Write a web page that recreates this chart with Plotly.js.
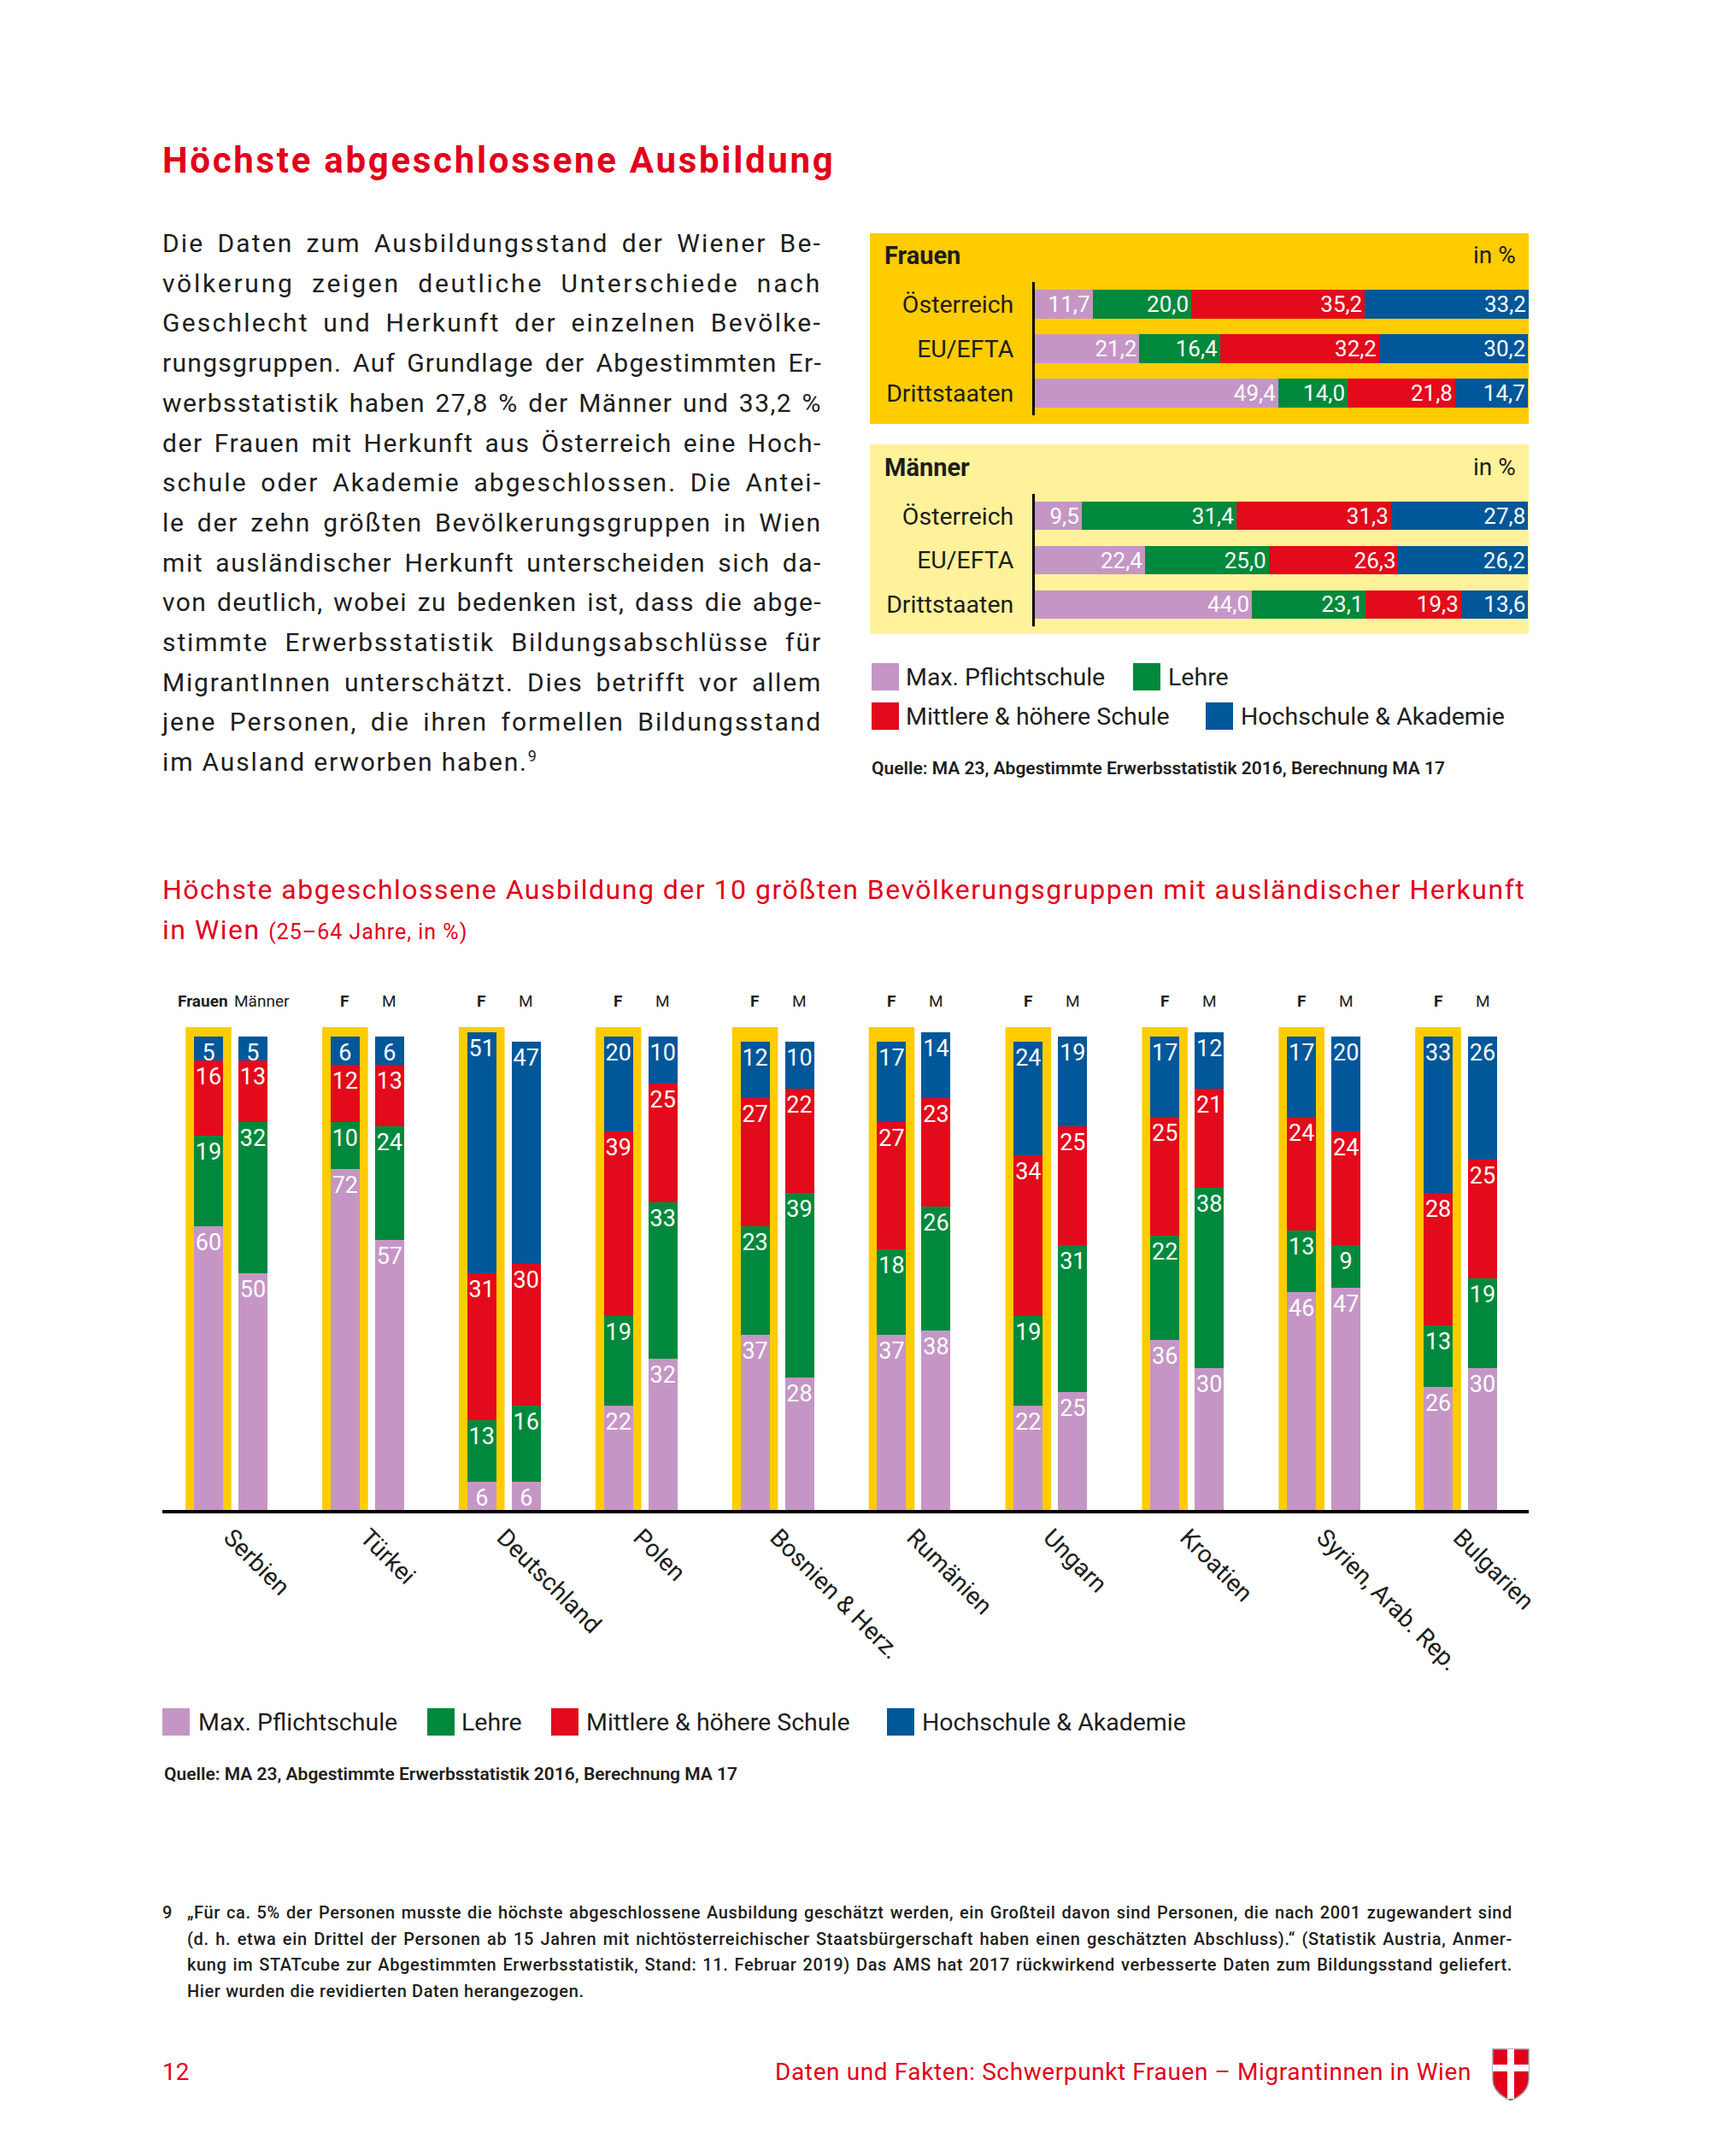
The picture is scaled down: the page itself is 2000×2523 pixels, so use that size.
<!DOCTYPE html>
<html><head><meta charset="utf-8">
<script src="https://cdn.plot.ly/plotly-3.0.1.min.js"></script>
<style>
html,body{margin:0;padding:0;background:#fff;}
#page{position:relative;width:2000px;height:2523px;overflow:hidden;font-family:Roboto,sans-serif;color:#1d1d1b;}
#chart{position:absolute;left:0;top:0;width:2000px;height:2523px;}
.t{position:absolute;white-space:nowrap;}
#h1{left:190px;top:166px;font-size:42px;line-height:44px;font-weight:700;color:#e2001a;letter-spacing:2.7px;}
#para{left:190px;top:262px;width:772px;font-size:30px;line-height:46.7px;white-space:normal;}
#para div, #fn .body div{text-align:justify;text-align-last:justify;}
#para div.last, #fn .body div.last{text-align:left;text-align-last:left;}
sup.fnm{font-size:60%;vertical-align:baseline;position:relative;top:-0.6em;}
#fn{left:190px;top:2223px;width:1580px;font-size:20px;line-height:30.7px;font-weight:500;white-space:normal;}
#fn .num{position:absolute;left:0;top:0;}
#fn .body{margin-left:29px;width:1551px;}
#t2{left:190px;top:1018px;font-size:32px;line-height:47px;color:#e2001a;letter-spacing:1.5px;}
#t2 small{font-size:25px;letter-spacing:1px;}
#pg{left:190px;top:2406px;font-size:28px;line-height:38px;color:#e2001a;}
#ft{right:278px;top:2406px;font-size:28px;line-height:38px;color:#e2001a;letter-spacing:0.6px;}
#coa{left:1746px;top:2397px;}
</style></head>
<body>
<div id="page">
<div id="chart"></div>
<div class="t" id="h1">Höchste abgeschlossene Ausbildung</div>
<div class="t" id="para">
<div>Die Daten zum Ausbildungsstand der Wiener Be-</div>
<div>völkerung zeigen deutliche Unterschiede nach</div>
<div>Geschlecht und Herkunft der einzelnen Bevölke-</div>
<div>rungsgruppen. Auf Grundlage der Abgestimmten Er-</div>
<div>werbsstatistik haben 27,8 % der Männer und 33,2 %</div>
<div>der Frauen mit Herkunft aus Österreich eine Hoch-</div>
<div>schule oder Akademie abgeschlossen. Die Antei-</div>
<div>le der zehn größten Bevölkerungsgruppen in Wien</div>
<div>mit ausländischer Herkunft unterscheiden sich da-</div>
<div>von deutlich, wobei zu bedenken ist, dass die abge-</div>
<div>stimmte Erwerbsstatistik Bildungsabschlüsse für</div>
<div>MigrantInnen unterschätzt. Dies betrifft vor allem</div>
<div>jene Personen, die ihren formellen Bildungsstand</div>
<div class="last">im Ausland erworben haben.<sup class="fnm">9</sup></div>
</div>
<div class="t" id="t2">Höchste abgeschlossene Ausbildung der 10 größten Bevölkerungsgruppen mit ausländischer Herkunft<br>in Wien <small>(25–64 Jahre, in %)</small></div>
<div class="t" id="fn"><span class="num">9</span><div class="body">
<div>„Für ca. 5% der Personen musste die höchste abgeschlossene Ausbildung geschätzt werden, ein Großteil davon sind Personen, die nach 2001 zugewandert sind</div>
<div>(d. h. etwa ein Drittel der Personen ab 15 Jahren mit nichtösterreichischer Staatsbürgerschaft haben einen geschätzten Abschluss).“ (Statistik Austria, Anmer-</div>
<div>kung im STATcube zur Abgestimmten Erwerbsstatistik, Stand: 11. Februar 2019) Das AMS hat 2017 rückwirkend verbesserte Daten zum Bildungsstand geliefert.</div>
<div class="last">Hier wurden die revidierten Daten herangezogen.</div>
</div></div>
<div class="t" id="pg">12</div>
<div class="t" id="ft">Daten und Fakten: Schwerpunkt Frauen – Migrantinnen in Wien</div>
<svg class="t" id="coa" width="44" height="62" viewBox="0 0 44 62">
<path d="M1,1 H43 V36 Q43,52 22,61 Q1,52 1,36 Z" fill="#e2001a" stroke="#9a9a9a" stroke-width="1.5"/>
<rect x="18" y="1" width="8" height="58" fill="#fff"/>
<rect x="1" y="19" width="42" height="8" fill="#fff"/>
</svg>
</div>
<script>
// ---------- data: top-right charts (in %) ----------
const groupsTop = ['Österreich', 'EU/EFTA', 'Drittstaaten'];
const frauenPflicht = [11.7, 21.2, 49.4];
const frauenLehre = [20.0, 16.4, 14.0];
const frauenMittlere = [35.2, 32.2, 21.8];
const frauenHoch = [33.2, 30.2, 14.7];
const maennerPflicht = [9.5, 22.4, 44.0];
const maennerLehre = [31.4, 25.0, 23.1];
const maennerMittlere = [31.3, 26.3, 19.3];
const maennerHoch = [27.8, 26.2, 13.6];

// ---------- data: 10 largest groups (25-64 years, in %) ----------
const countries = ['Serbien', 'Türkei', 'Deutschland', 'Polen', 'Bosnien & Herz.', 'Rumänien', 'Ungarn', 'Kroatien', 'Syrien, Arab. Rep.', 'Bulgarien'];
const fPflicht = [60, 72, 6, 22, 37, 37, 22, 36, 46, 26];
const fLehre = [19, 10, 13, 19, 23, 18, 19, 22, 13, 13];
const fMittlere = [16, 12, 31, 39, 27, 27, 34, 25, 24, 28];
const fHoch = [5, 6, 51, 20, 12, 17, 24, 17, 17, 33];
const mPflicht = [50, 57, 6, 32, 28, 38, 25, 30, 47, 30];
const mLehre = [32, 24, 16, 33, 39, 26, 31, 38, 9, 19];
const mMittlere = [13, 13, 30, 25, 22, 23, 25, 21, 24, 25];
const mHoch = [5, 6, 47, 10, 10, 14, 19, 12, 20, 26];

const levels = ['Max. Pflichtschule', 'Lehre', 'Mittlere & höhere Schule', 'Hochschule & Akademie'];
const levelColors = ['#c596c5', '#00893c', '#e30a1b', '#005799'];
const FRAME = '#ffcc00', LIGHT = '#fff29b', INK = '#1d1d1b';

const W = 2000, H = 2523;
const px = v => v / W, py = v => 1 - v / H;
const FONT = 'Roboto, sans-serif';

// spread letters of justified lines a little so word gaps stay moderate
function spread(sel, target, share) {
  const lines = Array.from(document.querySelectorAll(sel));
  let tot = 0, n = 0;
  lines.forEach(d => {
    if (d.classList.contains('last')) return;
    d.style.display = 'inline-block'; d.style.whiteSpace = 'nowrap';
    const w = d.getBoundingClientRect().width;
    const ls = Math.max(0, share * (target - w) / d.textContent.length);
    d.style.letterSpacing = ls.toFixed(2) + 'px';
    d.style.display = ''; d.style.whiteSpace = '';
    tot += ls; n++;
  });
  lines.forEach(d => { if (d.classList.contains('last')) d.style.letterSpacing = (tot / n).toFixed(2) + 'px'; });
}
spread('#para div', 772, 0.75);
spread('#fn .body div', 1551, 0.75);

const traces = [];
const frauenSets = [frauenPflicht, frauenLehre, frauenMittlere, frauenHoch];
const maennerSets = [maennerPflicht, maennerLehre, maennerMittlere, maennerHoch];
levels.forEach((lv, k) => {
  [[frauenSets, 'x', 'y'], [maennerSets, 'x2', 'y2']].forEach(([sets, xa, ya]) => {
    traces.push({
      type: 'bar', orientation: 'h', name: lv, y: groupsTop, x: sets[k],
      xaxis: xa, yaxis: ya, marker: {color: levelColors[k], line: {width: 0}},
      texttemplate: '%{x:.1f}', textposition: 'inside', insidetextanchor: 'end',
      textangle: 0, constraintext: 'none', cliponaxis: false,
      textfont: {family: FONT, size: 26, color: '#fff'},
      showlegend: false, hoverinfo: 'skip'
    });
  });
});

const OFF = 0.1625, BW = 0.2125, FW = 0.335;
const xF = countries.map((_, i) => i - OFF);
const xM = countries.map((_, i) => i + OFF);
const fSets = [fPflicht, fLehre, fMittlere, fHoch];
const mSets = [mPflicht, mLehre, mMittlere, mHoch];
levels.forEach((lv, k) => {
  traces.push({
    type: 'bar', name: lv, x: xF.concat(xM), y: fSets[k].concat(mSets[k]),
    width: BW, xaxis: 'x3', yaxis: 'y3',
    marker: {color: levelColors[k], line: {width: 0}},
    texttemplate: '%{y}', textposition: 'inside', insidetextanchor: 'end',
    textangle: 0, constraintext: 'none', cliponaxis: false,
    textfont: {family: FONT, size: 27, color: '#fff'},
    showlegend: false, hoverinfo: 'skip'
  });
});

const shapes = [];
const annotations = [];
// background boxes
shapes.push({type: 'rect', xref: 'paper', yref: 'paper', x0: px(1018), x1: px(1789), y0: py(496), y1: py(273), fillcolor: FRAME, line: {width: 0}, layer: 'below'});
shapes.push({type: 'rect', xref: 'paper', yref: 'paper', x0: px(1018), x1: px(1789), y0: py(742), y1: py(520), fillcolor: LIGHT, line: {width: 0}, layer: 'below'});
// yellow frames around women's bars
xF.forEach(x => shapes.push({type: 'rect', xref: 'x3', yref: 'y3', x0: x - FW / 2, x1: x + FW / 2, y0: 0, y1: 102, fillcolor: FRAME, line: {width: 0}, layer: 'below'}));

// box headers
[['Frauen', 299], ['Männer', 547]].forEach(([t, y]) => {
  annotations.push({xref: 'paper', yref: 'paper', x: px(1033), y: py(y), xanchor: 'left', yanchor: 'middle', text: '<b>' + t + '</b>', showarrow: false, font: {family: FONT, size: 29, color: INK}});
  annotations.push({xref: 'paper', yref: 'paper', x: px(1776), y: py(y), xanchor: 'right', yanchor: 'middle', text: 'in %', showarrow: false, font: {family: FONT, size: 28, color: INK}});
});

// legends
function legend(items) {
  items.forEach(([k, sx, tx, cy]) => {
    shapes.push({type: 'rect', xref: 'paper', yref: 'paper', x0: px(sx), x1: px(sx + 32), y0: py(cy + 16), y1: py(cy - 16), fillcolor: levelColors[k], line: {width: 0}});
    annotations.push({xref: 'paper', yref: 'paper', x: px(tx), y: py(cy), xanchor: 'left', yanchor: 'middle', text: levels[k], showarrow: false, font: {family: FONT, size: 28.5, color: INK}});
  });
}
legend([[0, 1020, 1058, 792], [1, 1326, 1365, 792], [2, 1020, 1058, 838], [3, 1411, 1450, 838]]);
legend([[0, 190, 230, 2015], [1, 500, 538, 2015], [2, 645, 684, 2015], [3, 1038, 1077, 2015]]);

// sources
const source = 'Quelle: MA 23, Abgestimmte Erwerbsstatistik 2016, Berechnung MA 17';
[[1018, 899], [190, 2076]].forEach(([x, y]) => annotations.push({xref: 'paper', yref: 'paper', x: px(x), y: py(y), xanchor: 'left', yanchor: 'middle', text: source, showarrow: false, font: {family: FONT, size: 21, weight: 600, color: INK}}));

// F / M headers
countries.forEach((c, i) => {
  if (i === 0) {
    annotations.push({xref: 'x3', yref: 'paper', x: i, y: py(1171), xanchor: 'right', yanchor: 'middle', xshift: -1, text: '<b>Frauen</b>', showarrow: false, font: {family: FONT, size: 19, color: INK}});
    annotations.push({xref: 'x3', yref: 'paper', x: i, y: py(1171), xanchor: 'left', yanchor: 'middle', xshift: 2, text: 'Männer', showarrow: false, font: {family: FONT, size: 19, color: INK}});
  } else {
    annotations.push({xref: 'x3', yref: 'paper', x: xF[i], y: py(1171), xanchor: 'center', yanchor: 'middle', text: '<b>F</b>', showarrow: false, font: {family: FONT, size: 19, color: INK}});
    annotations.push({xref: 'x3', yref: 'paper', x: xM[i], y: py(1171), xanchor: 'center', yanchor: 'middle', text: 'M', showarrow: false, font: {family: FONT, size: 19, color: INK}});
  }
});

const hAxisX = {range: [0, 100.12], visible: false, fixedrange: true};
const catAxis = dom => ({domain: dom, type: 'category', range: [2.5, -0.5], showline: true, linecolor: '#000', linewidth: 3,
  showgrid: false, zeroline: false, ticks: '', ticklabelstandoff: 16, tickfont: {family: FONT, size: 28.5, color: INK}, fixedrange: true});

const layout = {
  width: W, height: H, margin: {l: 0, r: 0, t: 0, b: 0},
  paper_bgcolor: 'rgba(0,0,0,0)', plot_bgcolor: 'rgba(0,0,0,0)',
  barmode: 'stack', bargap: 0.36, separators: ',.', showlegend: false,
  font: {family: FONT, color: INK},
  xaxis: Object.assign({domain: [px(1211), px(1789)], anchor: 'y'}, hAxisX),
  yaxis: Object.assign(catAxis([py(486), py(330)]), {anchor: 'x'}),
  xaxis2: Object.assign({domain: [px(1211), px(1789)], anchor: 'y2'}, hAxisX),
  yaxis2: Object.assign(catAxis([py(733), py(578)]), {anchor: 'x2'}),
  xaxis3: {domain: [px(190), px(1789)], anchor: 'y3', range: [-0.5, 9.5], tickmode: 'array',
    tickvals: countries.map((_, i) => i), ticktext: countries, tickangle: 45,
    tickfont: {family: FONT, size: 28.5, color: INK}, showline: true, linecolor: '#000', linewidth: 4,
    showgrid: false, zeroline: false, ticks: '', fixedrange: true},
  yaxis3: {domain: [py(1767), py(1202)], anchor: 'x3', range: [0, 102], visible: false, fixedrange: true},
  shapes: shapes, annotations: annotations
};

Plotly.newPlot('chart', traces, layout, {staticPlot: true, displayModeBar: false});
</script>
</body></html>
